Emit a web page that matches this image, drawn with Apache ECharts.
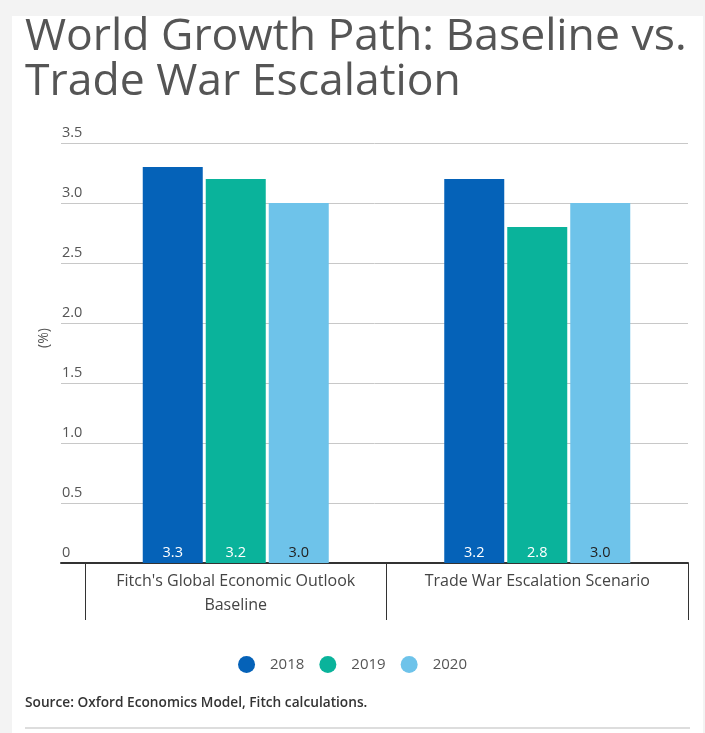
<!DOCTYPE html>
<html>
<head>
<meta charset="utf-8">
<script src="https://cdn.jsdelivr.net/npm/echarts@6/dist/echarts.min.js"></script>
<style>
    html, body {margin: 0; padding: 0; background: #f3f3f3;}
    #chart {width: 705px; height: 733px;}
</style>
</head>
<body>
<div id="chart"></div>
<script>
    // data
    var categories = ["Fitch's Global Economic Outlook\nBaseline", 'Trade War Escalation Scenario'];
    var years = ['2018', '2019', '2020'];
    var values2018 = [3.3, 3.2];
    var values2019 = [3.2, 2.8];
    var values2020 = [3.0, 3.0];
    var yTicks = [0, 0.5, 1.0, 1.5, 2.0, 2.5, 3.0, 3.5];

    var colors = ['#0562b8', '#0ab39b', '#6ec3ea'];
    var labelColors = ['#ffffff', '#ffffff', '#222222'];
    var seriesData = [values2018, values2019, values2020];

    var font = '"Open Sans", "Noto Sans", sans-serif';
    var gridTop = 143, gridBottom = 170;

    var series = years.map(function (y, i) {
        return {
            name: y,
            type: 'bar',
            xAxisIndex: 1,
            yAxisIndex: 1,
            data: seriesData[i],
            barWidth: 60,
            barGap: '5%',
            itemStyle: {color: colors[i]},
            label: {
                show: true,
                position: 'insideBottom',
                distance: 3,
                color: labelColors[i],
                fontSize: 14.5,
                fontFamily: font,
                formatter: function (p) { return p.value.toFixed(1); }
            }
        };
    });

    var chart = echarts.init(document.getElementById('chart'));
    chart.setOption({
        backgroundColor: '#f3f3f3',
        animation: false,
        graphic: [
            {type: 'rect', z: -10, shape: {x: 12, y: 16, width: 691, height: 720}, style: {fill: '#ffffff'}},
            {type: 'line', shape: {x1: 25, y1: 728, x2: 690, y2: 728}, style: {stroke: '#dddddd', lineWidth: 2}},
            {type: 'text', x: 44, y: 338, rotation: Math.PI / 2,
                style: {text: '(%)', fill: '#555', fontSize: 14, fontFamily: font, align: 'center', verticalAlign: 'middle'}}
        ],
        title: [
            {
                text: 'World Growth Path: Baseline vs.\nTrade War Escalation',
                left: 25, top: 15, padding: 0,
                textStyle: {color: '#555', fontSize: 44.5, fontWeight: 'normal', fontFamily: font, lineHeight: 45}
            },
            {
                text: 'Source: Oxford Economics Model, Fitch calculations.',
                left: 25, top: 696, padding: 0,
                textStyle: {color: '#333', fontSize: 13.7, fontWeight: 600, fontFamily: font}
            }
        ],
        legend: {
            data: years,
            left: 'center',
            top: 651,
            icon: 'circle',
            itemWidth: 17,
            itemHeight: 17,
            itemGap: 15,
            textStyle: {color: '#555', fontSize: 15, fontFamily: font, padding: [0, 0, 0, 10]}
        },
        grid: [
            {left: 61, right: 17, top: gridTop, bottom: gridBottom},
            {left: 85, right: 17, top: gridTop, bottom: gridBottom}
        ],
        xAxis: [
            {
                type: 'value', gridIndex: 0, min: 0, max: 1,
                axisLine: {show: true, lineStyle: {color: '#333', width: 2}},
                axisTick: {show: false}, axisLabel: {show: false}, splitLine: {show: false}
            },
            {
                type: 'category', gridIndex: 1, data: categories,
                axisLine: {show: false},
                axisTick: {show: true, interval: 0, length: 57, lineStyle: {color: '#333', width: 1}},
                axisLabel: {interval: 0, hideOverlap: false, color: '#444', fontSize: 16, fontFamily: font, lineHeight: 24, margin: 6}
            }
        ],
        yAxis: [
            {
                type: 'value', gridIndex: 0, min: 0, max: 3.5, interval: 0.5,
                axisLine: {show: false}, axisTick: {show: false},
                splitLine: {lineStyle: {color: '#c8c8c8', width: 1}},
                axisLabel: {
                    inside: true, margin: 1, verticalAlign: 'bottom', padding: [0, 0, 3, 0],
                    color: '#555', fontSize: 14.5, fontFamily: font,
                    formatter: function (v) {
                        for (var i = 0; i < yTicks.length; i++) {
                            if (Math.abs(yTicks[i] - v) < 1e-6) return v === 0 ? '0' : v.toFixed(1);
                        }
                        return '';
                    }
                }
            },
            {
                type: 'value', gridIndex: 1, min: 0, max: 3.5, interval: 0.5, show: false
            }
        ],
        series: series
    });
</script>
</body>
</html>
